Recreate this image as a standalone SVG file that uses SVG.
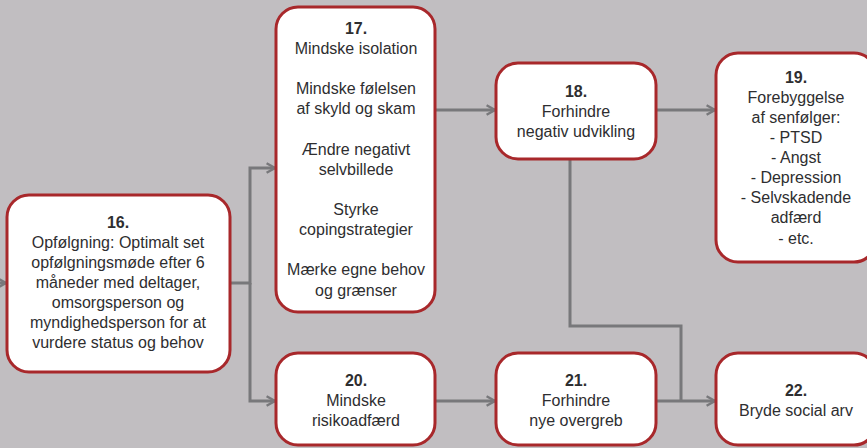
<svg xmlns="http://www.w3.org/2000/svg" width="867" height="448" viewBox="0 0 867 448">
<defs>
<style>
.box{fill:#ffffff;stroke:#a8282b;stroke-width:3}
.t{font-family:"Liberation Sans",Arial,sans-serif;font-size:16px;fill:#2e2e30;text-anchor:middle}
.b{font-weight:bold}
.c{fill:none;stroke:#78787b;stroke-width:3}
</style>
<marker id="ah" viewBox="0 0 10 10" refX="8" refY="5" markerWidth="4" markerHeight="4" markerUnits="strokeWidth" orient="auto">
<path d="M1,1 L8,5 L1,9" fill="none" stroke="#78787b" stroke-width="2"/>
</marker>
</defs>
<rect width="867" height="448" fill="#c1bec1"/>
<g id="connectors">
<path class="c" d="M0,283 H6" marker-end="url(#ah)"/>
<path class="c" d="M230,283 H250 V168 H275" marker-end="url(#ah)"/>
<path class="c" d="M250,283 V401 H275" marker-end="url(#ah)"/>
<path class="c" d="M435,110 H495" marker-end="url(#ah)"/>
<path class="c" d="M656,110 H715" marker-end="url(#ah)"/>
<path class="c" d="M435,401 H495" marker-end="url(#ah)"/>
<path class="c" d="M656,401 H715" marker-end="url(#ah)"/>
<path class="c" d="M570,159 V326 H681 V401"/>
</g>
<g id="n16">
<rect class="box" x="7" y="195" width="223" height="177" rx="22"/>
<text class="t" x="118" y="228"><tspan class="b" x="118">16.</tspan><tspan x="118" dy="20">Opfølgning: Optimalt set</tspan><tspan x="118" dy="20">opfølgningsmøde efter 6</tspan><tspan x="118" dy="20">måneder med deltager,</tspan><tspan x="118" dy="20">omsorgsperson og</tspan><tspan x="118" dy="20">myndighedsperson for at</tspan><tspan x="118" dy="20">vurdere status og behov</tspan></text>
</g>
<g id="n17">
<rect class="box" x="276" y="7" width="159" height="305" rx="22"/>
<text class="t" x="356" y="34"><tspan class="b" x="356">17.</tspan><tspan x="356" dy="20">Mindske isolation</tspan><tspan x="356" dy="40">Mindske følelsen</tspan><tspan x="356" dy="20">af skyld og skam</tspan><tspan x="356" dy="41">Ændre negativt</tspan><tspan x="356" dy="20">selvbillede</tspan><tspan x="356" dy="40">Styrke</tspan><tspan x="356" dy="20">copingstrategier</tspan><tspan x="356" dy="40">Mærke egne behov</tspan><tspan x="356" dy="21">og grænser</tspan></text>
</g>
<g id="n18">
<rect class="box" x="496" y="63" width="160" height="96" rx="22"/>
<text class="t" x="576" y="97"><tspan class="b" x="576">18.</tspan><tspan x="576" dy="20">Forhindre</tspan><tspan x="576" dy="20">negativ udvikling</tspan></text>
</g>
<g id="n19">
<rect class="box" x="716" y="53" width="160" height="209" rx="22"/>
<text class="t" x="796" y="83"><tspan class="b" x="796">19.</tspan><tspan x="796" dy="20">Forebyggelse</tspan><tspan x="796" dy="20">af senfølger:</tspan><tspan x="796" dy="20">- PTSD</tspan><tspan x="796" dy="20">- Angst</tspan><tspan x="796" dy="20">- Depression</tspan><tspan x="796" dy="20">- Selvskadende</tspan><tspan x="796" dy="20">adfærd</tspan><tspan x="796" dy="21">- etc.</tspan></text>
</g>
<g id="n20">
<rect class="box" x="276" y="353" width="159" height="92" rx="22"/>
<text class="t" x="356" y="386"><tspan class="b" x="356">20.</tspan><tspan x="356" dy="20">Mindske</tspan><tspan x="356" dy="20">risikoadfærd</tspan></text>
</g>
<g id="n21">
<rect class="box" x="496" y="353" width="160" height="92" rx="22"/>
<text class="t" x="576" y="386"><tspan class="b" x="576">21.</tspan><tspan x="576" dy="20">Forhindre</tspan><tspan x="576" dy="20">nye overgreb</tspan></text>
</g>
<g id="n22">
<rect class="box" x="716" y="353" width="160" height="92" rx="22"/>
<text class="t" x="796" y="396"><tspan class="b" x="796">22.</tspan><tspan x="796" dy="20">Bryde social arv</tspan></text>
</g>
</svg>
